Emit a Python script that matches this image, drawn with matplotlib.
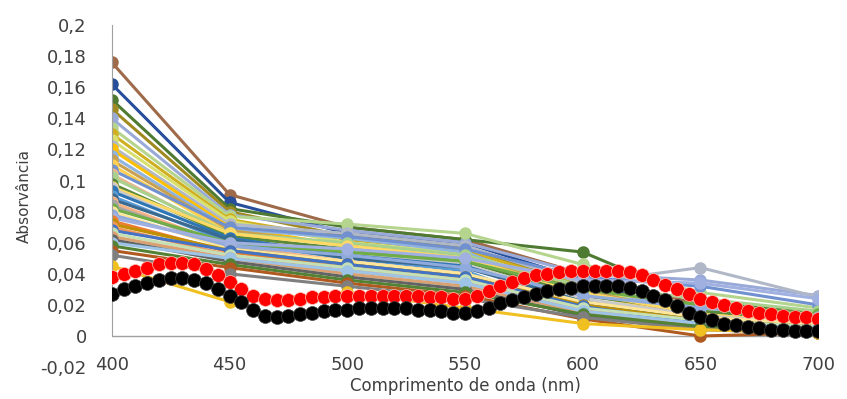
import numpy as np
import matplotlib
matplotlib.use("Agg")
import matplotlib.pyplot as plt
from matplotlib.ticker import FuncFormatter

# wavelengths for the coarse series (nm)
wl = [400, 450, 500, 550, 600, 650, 700]

# coarse series: (colour, absorbance at each wavelength)
series = [
    ("#9E6A4A", [0.176, 0.091, 0.070, 0.062, 0.040, 0.020, 0.012]),
    ("#264E9A", [0.162, 0.086, 0.066, 0.060, 0.036, 0.012, 0.008]),
    ("#4E7A32", [0.152, 0.082, 0.070, 0.062, 0.054, 0.022, 0.015]),
    ("#A08A20", [0.146, 0.080, 0.064, 0.057, 0.032, 0.014, 0.010]),
    ("#9AAAD8", [0.140, 0.078, 0.068, 0.060, 0.040, 0.036, 0.026]),
    ("#B5D58E", [0.134, 0.077, 0.072, 0.066, 0.046, 0.028, 0.018]),
    ("#D0B020", [0.130, 0.075, 0.062, 0.055, 0.032, 0.016, 0.010]),
    ("#D8E070", [0.126, 0.074, 0.060, 0.053, 0.030, 0.015, 0.008]),
    ("#B0B8C8", [0.122, 0.072, 0.066, 0.058, 0.034, 0.044, 0.025]),
    ("#FFC000", [0.120, 0.070, 0.058, 0.050, 0.028, 0.013, 0.006]),
    ("#8FB4E0", [0.116, 0.069, 0.063, 0.054, 0.026, 0.020, 0.012]),
    ("#C8A050", [0.113, 0.068, 0.058, 0.050, 0.030, 0.012, 0.008]),
    ("#FFD050", [0.110, 0.066, 0.054, 0.048, 0.028, 0.010, 0.006]),
    ("#7090D0", [0.107, 0.070, 0.064, 0.056, 0.038, 0.032, 0.020]),
    ("#E8B890", [0.104, 0.064, 0.052, 0.044, 0.024, 0.009, 0.004]),
    ("#A9D18E", [0.102, 0.066, 0.060, 0.052, 0.032, 0.024, 0.016]),
    ("#5A8A39", [0.098, 0.064, 0.056, 0.048, 0.026, 0.016, 0.010]),
    ("#FFD966", [0.096, 0.066, 0.058, 0.050, 0.028, 0.014, 0.008]),
    ("#C9C9C9", [0.095, 0.062, 0.054, 0.046, 0.024, 0.013, 0.008]),
    ("#2E75B6", [0.093, 0.063, 0.052, 0.045, 0.022, 0.010, 0.006]),
    ("#5B9BD5", [0.090, 0.060, 0.050, 0.042, 0.014, 0.006, 0.004]),
    ("#3A6A90", [0.088, 0.062, 0.050, 0.044, 0.022, 0.009, 0.006]),
    ("#F4B183", [0.086, 0.058, 0.048, 0.040, 0.020, 0.008, 0.005]),
    ("#A5A5A5", [0.084, 0.057, 0.047, 0.040, 0.019, 0.010, 0.006]),
    ("#70AD47", [0.082, 0.060, 0.054, 0.048, 0.030, 0.020, 0.014]),
    ("#FFE699", [0.080, 0.056, 0.048, 0.040, 0.022, 0.012, 0.008]),
    ("#8FAADC", [0.078, 0.058, 0.052, 0.044, 0.026, 0.018, 0.012]),
    ("#A0B0E0", [0.076, 0.060, 0.056, 0.050, 0.036, 0.034, 0.024]),
    ("#ED7D31", [0.074, 0.054, 0.044, 0.036, 0.016, 0.005, 0.002]),
    ("#BF9000", [0.072, 0.055, 0.046, 0.038, 0.020, 0.010, 0.006]),
    ("#F1975A", [0.070, 0.052, 0.042, 0.034, 0.017, 0.006, 0.004]),
    ("#4472C4", [0.068, 0.055, 0.046, 0.038, 0.019, 0.008, 0.004]),
    ("#C5E0B4", [0.066, 0.052, 0.044, 0.036, 0.018, 0.010, 0.006]),
    ("#D9A070", [0.064, 0.050, 0.040, 0.032, 0.015, 0.006, 0.004]),
    ("#636363", [0.062, 0.048, 0.038, 0.030, 0.013, 0.006, 0.004]),
    ("#9DC3E6", [0.060, 0.050, 0.042, 0.034, 0.016, 0.008, 0.005]),
    ("#548235", [0.058, 0.046, 0.036, 0.028, 0.014, 0.006, 0.003]),
    ("#B05A20", [0.055, 0.044, 0.034, 0.026, 0.011, 0.000, 0.002]),
    ("#7F7F7F", [0.052, 0.040, 0.032, 0.024, 0.012, 0.004, 0.002]),
    ("#F0C020", [0.045, 0.022, 0.028, 0.018, 0.008, 0.004, 0.002]),
]

# fine series, every 5 nm from 400 to 700
wl_fine = list(range(400, 701, 5))
red = [0.038, 0.040, 0.042, 0.044, 0.046, 0.047, 0.047, 0.046, 0.043, 0.039,
       0.035, 0.030, 0.026, 0.024, 0.023, 0.023, 0.024, 0.025, 0.025, 0.026,
       0.026, 0.026, 0.026, 0.026, 0.026, 0.026, 0.026, 0.025, 0.025, 0.024,
       0.024, 0.026, 0.029, 0.032, 0.035, 0.037, 0.039, 0.040, 0.041, 0.042,
       0.042, 0.042, 0.042, 0.042, 0.041, 0.039, 0.036, 0.033, 0.030, 0.027,
       0.024, 0.022, 0.020, 0.018, 0.016, 0.015, 0.014, 0.013, 0.012, 0.012,
       0.011]
black = [0.027, 0.030, 0.032, 0.034, 0.036, 0.037, 0.037, 0.036, 0.034, 0.030,
         0.026, 0.022, 0.017, 0.013, 0.012, 0.013, 0.014, 0.015, 0.016, 0.017,
         0.017, 0.018, 0.018, 0.018, 0.018, 0.018, 0.017, 0.017, 0.016, 0.015,
         0.015, 0.016, 0.018, 0.021, 0.023, 0.025, 0.027, 0.029, 0.030, 0.031,
         0.032, 0.032, 0.032, 0.032, 0.031, 0.029, 0.026, 0.023, 0.019, 0.015,
         0.012, 0.010, 0.008, 0.007, 0.006, 0.005, 0.004, 0.004, 0.003, 0.003,
         0.003]

yticks = [-0.02, 0, 0.02, 0.04, 0.06, 0.08, 0.1, 0.12, 0.14, 0.16, 0.18, 0.2]
xticks = [400, 450, 500, 550, 600, 650, 700]

fig = plt.figure(figsize=(8.47, 3.99), dpi=100)
ax = fig.add_axes([0.132, 0.080, 0.834, 0.857])

for c, vals in series:
    ax.plot(wl, vals, color=c, lw=2.2, marker="o", ms=8, mec=c, zorder=2)

ax.plot(wl_fine, red, color="#FF0000", lw=2.5, marker="o", ms=10,
        mec="#FFC0B0", mew=0.5, zorder=3)
ax.plot(wl_fine, black, color="#000000", lw=2.5, marker="o", ms=10,
        mec="#404040", mew=0.5, zorder=4)

ax.set_xlim(400, 700)
ax.set_ylim(-0.02, 0.2)
ax.set_xticks(xticks)
ax.set_yticks(yticks)
ax.yaxis.set_major_formatter(FuncFormatter(lambda v, p: f"{v:g}".replace(".", ",")))
ax.tick_params(length=0, labelsize=13, colors="#404040")
ax.tick_params(axis="y", pad=18)
ax.tick_params(axis="x", pad=-8)

for s in ["top", "right", "bottom"]:
    ax.spines[s].set_visible(False)
ax.spines["left"].set_bounds(0, 0.2)
ax.spines["left"].set_color("#A0A0A0")
ax.axhline(0, color="#A0A0A0", lw=1, zorder=1)

ax.set_xlabel("Comprimento de onda (nm)", fontsize=12, color="#404040", labelpad=2)
ax.set_ylabel("Absorvância", fontsize=11, color="#404040", labelpad=6)

fig.savefig("out.png", dpi=100)
